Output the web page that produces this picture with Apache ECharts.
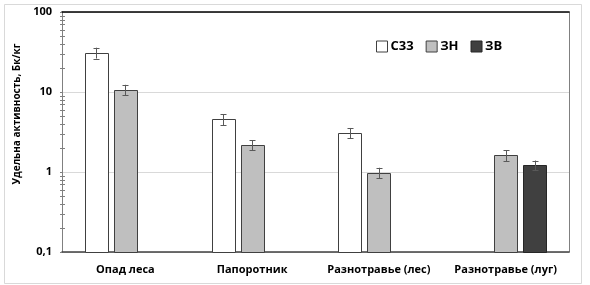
<!DOCTYPE html>
<html><head><meta charset="utf-8">
<script src="https://cdn.jsdelivr.net/npm/echarts@6/dist/echarts.min.js"></script>
<style>html,body{margin:0;padding:0;background:#fff}#c{width:590px;height:285px}</style>
</head><body><div id="c"></div>
<script>
const categories = ['Опад леса', 'Папоротник', 'Разнотравье (лес)', 'Разнотравье (луг)'];
const seriesNames = ['С33', 'ЗН', 'ЗВ'];
const valsC33 = [31, 4.55, 3.1, null];
const valsZN = [10.7, 2.18, 0.98, 1.62];
const valsZV = [null, null, null, 1.22];
const errC33 = [4.8, 0.7, 0.45, null];
const errZN = [1.6, 0.32, 0.15, 0.25];
const errZV = [null, null, null, 0.17];
const yTickLabels = {0.1: '0,1', 1: '1', 10: '10', 100: '100'};
const minorTickValues = [0.2,0.3,0.4,0.5,0.6,0.7,0.8,0.9,2,3,4,5,6,7,8,9,20,30,40,50,60,70,80,90];

const FONT = 'Open Sans';
const Y_MIN = 0.1, Y_MAX = 100;
const colors = ['#ffffff', '#bfbfbf', '#404040'];
const borders = ['#404040', '#404040', '#262626'];
const CAT_GAP = 0.36, BAR_GAP = 0.27;
const vals = [valsC33, valsZN, valsZV];
const errs = [errC33, errZN, errZV];

function barGeom(api, i) {
  const band = api.size([1, 0])[0];
  const usable = band * (1 - CAT_GAP);
  const bw = usable / (3 + 2 * BAR_GAP);
  const off = (i - 1) * bw * (1 + BAR_GAP);
  return {bw, off};
}

const chart = echarts.init(document.getElementById('c'), null, {renderer: 'canvas'});
const series = [];
vals.forEach((v, i) => {
  const data = [];
  v.forEach((val, k) => { if (val != null) data.push([k, val, errs[i][k]]); });
  series.push({
    type: 'custom', name: seriesNames[i], data: data, xAxisIndex: 0, yAxisIndex: 0,
    animation: false, clip: false,
    itemStyle: {color: colors[i], borderColor: borders[i], borderWidth: 1},
    encode: {x: 0, y: 1},
    renderItem: function (params, api) {
      const k = api.value(0), val = api.value(1), er = api.value(2);
      const g = barGeom(api, i);
      const top = api.coord([k, val]);
      const base = api.coord([k, Y_MIN]);
      const x = top[0] + g.off;
      const children = [{
        type: 'rect',
        shape: {x: Math.round(x - g.bw / 2) + 0.5, y: Math.round(top[1]) + 0.5, width: Math.round(g.bw), height: Math.round(base[1]) - Math.round(top[1])},
        style: {fill: colors[i], stroke: borders[i], lineWidth: 1}
      }];
      if (!isNaN(er)) {
        const et = api.coord([k, val + er]);
        const eb = api.coord([k, val - er]);
        const ex = Math.round(x) + 0.5;
        const st = {stroke: '#595959', lineWidth: 1};
        children.push(
          {type: 'line', shape: {x1: ex, y1: et[1], x2: ex, y2: eb[1]}, style: st, z2: 5},
          {type: 'line', shape: {x1: ex - 3, y1: Math.round(et[1]) + 0.5, x2: ex + 3, y2: Math.round(et[1]) + 0.5}, style: st, z2: 5},
          {type: 'line', shape: {x1: ex - 3, y1: Math.round(eb[1]) + 0.5, x2: ex + 3, y2: Math.round(eb[1]) + 0.5}, style: st, z2: 5}
        );
      }
      return {type: 'group', children};
    }
  });
});
series.push({
  type: 'custom', xAxisIndex: 0, yAxisIndex: 0, animation: false, z: 6, silent: true, clip: false,
  data: minorTickValues.map(v => [0, v]),
  encode: {x: 0, y: 1},
  renderItem: function (params, api) {
    const p = api.coord([0, api.value(1)]);
    const x = Math.round(p[0] - api.size([1, 0])[0] / 2);
    const y = Math.round(p[1]) + 0.5;
    return {type: 'line', shape: {x1: x - 2, y1: y, x2: x + 3, y2: y}, style: {stroke: '#808080', lineWidth: 1}};
  }
});

chart.setOption({
  animation: false,
  backgroundColor: '#fff',
  grid: {left: 62, right: 21, top: 12, bottom: 33, containLabel: false},
  legend: {
    data: seriesNames.map((n, i) => ({name: n, itemStyle: {color: colors[i], borderColor: borders[i], borderWidth: 1}})),
    left: 371, top: 35, itemWidth: 11, itemHeight: 11, itemGap: 12,
    icon: 'rect',
    textStyle: {fontFamily: FONT, fontWeight: 'bold', fontSize: 13, color: '#000', padding: [0, 0, 0, -2]},
    selectedMode: false
  },
  xAxis: [{
    type: 'category', data: categories, position: 'bottom',
    axisLine: {lineStyle: {color: '#404040', width: 1.5}},
    axisTick: {show: false},
    axisLabel: {fontFamily: FONT, fontWeight: 'bold', fontSize: 11, color: '#000', margin: 12, interval: 0}
  }, {
    type: 'category', data: categories, position: 'top',
    axisLine: {lineStyle: {color: '#000', width: 1.5}},
    axisTick: {show: false}, axisLabel: {show: false}
  }],
  yAxis: [{
    type: 'log', logBase: 10, min: Y_MIN, max: Y_MAX,
    name: 'Удельна активность, Бк/кг', nameLocation: 'middle', nameGap: 38,
    nameTextStyle: {fontFamily: FONT, fontWeight: 'bold', fontSize: 10, color: '#000', padding: [0, 0, 0, 36]},
    axisLine: {show: true, lineStyle: {color: '#808080'}},
    axisTick: {show: true, inside: false, length: 2, lineStyle: {color: '#808080'}},
    axisLabel: {fontFamily: FONT, fontWeight: 'bold', fontSize: 11, color: '#000', margin: 10,
      formatter: v => yTickLabels[Math.round(v * 10) / 10] || ''},
    splitLine: {show: true, lineStyle: {color: '#d9d9d9', width: 1}}
  }, {
    type: 'log', logBase: 10, min: Y_MIN, max: Y_MAX, position: 'right',
    axisLine: {show: true, lineStyle: {color: '#808080'}},
    axisTick: {show: false}, axisLabel: {show: false}, splitLine: {show: false}
  }],
  graphic: [{
    type: 'rect', left: 2, top: 2, shape: {width: 577, height: 279},
    style: {fill: 'none', stroke: '#d9d9d9', lineWidth: 1}, silent: true, z: -1
  }],
  series: series
});
</script></body></html>
